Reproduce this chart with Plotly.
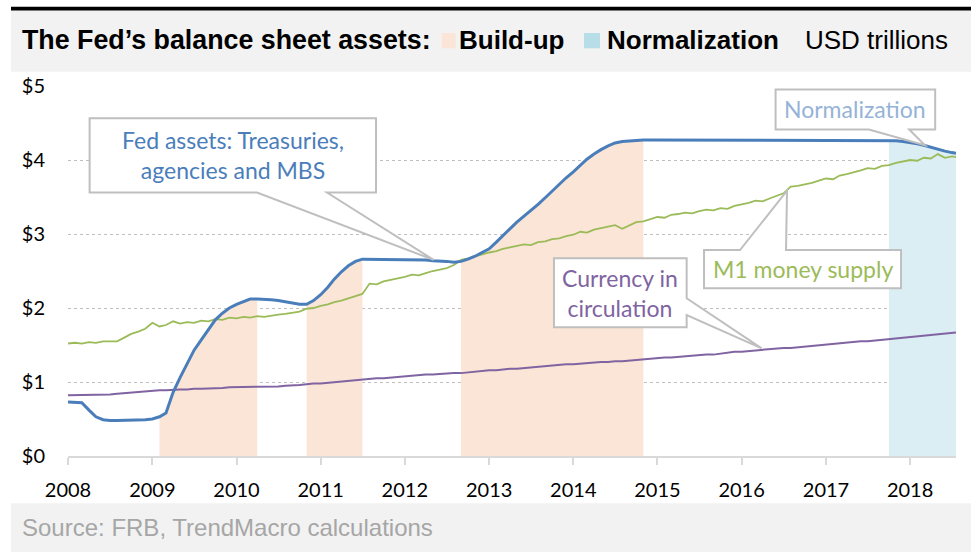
import pandas as pd
import plotly.graph_objects as go

# ---------------- data ----------------
dates = [d.strftime("%Y-%m-%d") for d in pd.date_range("2008-01-01", "2018-07-01", freq="MS")] + ["2018-07-19"]

fed_assets = [
    0.73, 0.73, 0.72, 0.62, 0.53, 0.49, 0.48, 0.48, 0.48, 0.48, 0.49, 0.49,   # 2008
    0.50, 0.53, 0.58, 0.86, 1.06, 1.25, 1.43, 1.57, 1.71, 1.84, 1.93, 2.00,   # 2009
    2.05, 2.09, 2.12, 2.12, 2.12, 2.11, 2.10, 2.08, 2.06, 2.05, 2.05, 2.10,   # 2010
    2.18, 2.28, 2.39, 2.49, 2.57, 2.63, 2.66, 2.66, 2.65, 2.66, 2.65, 2.66,   # 2011
    2.65, 2.66, 2.65, 2.65, 2.64, 2.64, 2.63, 2.62, 2.63, 2.66, 2.70, 2.75,   # 2012
    2.80, 2.89, 2.98, 3.07, 3.16, 3.24, 3.31, 3.40, 3.49, 3.58, 3.67, 3.76,   # 2013
    3.84, 3.93, 4.01, 4.08, 4.14, 4.19, 4.23, 4.25, 4.26, 4.27, 4.27, 4.27,   # 2014
    4.27, 4.26, 4.27, 4.27, 4.26, 4.27, 4.26, 4.27, 4.27, 4.26, 4.27, 4.26,   # 2015
    4.27, 4.26, 4.27, 4.26, 4.27, 4.27, 4.26, 4.27, 4.26, 4.27, 4.27, 4.26,   # 2016
    4.27, 4.26, 4.27, 4.27, 4.26, 4.27, 4.26, 4.27, 4.27, 4.27, 4.26, 4.25,   # 2017
    4.24, 4.22, 4.20, 4.17, 4.15, 4.12, 4.10, 4.09,                           # 2018
]

m1_money = [
    1.52, 1.53, 1.52, 1.54, 1.53, 1.55, 1.55, 1.55, 1.60, 1.65, 1.68, 1.72,   # 2008
    1.80, 1.75, 1.77, 1.82, 1.79, 1.81, 1.80, 1.83, 1.82, 1.85, 1.84, 1.87,   # 2009
    1.86, 1.88, 1.87, 1.89, 1.88, 1.90, 1.91, 1.92, 1.94, 1.95, 1.99, 2.00,   # 2010
    2.03, 2.05, 2.08, 2.10, 2.13, 2.16, 2.19, 2.33, 2.32, 2.36, 2.38, 2.40,   # 2011
    2.42, 2.45, 2.44, 2.47, 2.50, 2.52, 2.54, 2.58, 2.65, 2.67, 2.70, 2.73,   # 2012
    2.75, 2.77, 2.80, 2.82, 2.84, 2.86, 2.85, 2.89, 2.90, 2.93, 2.94, 2.97,   # 2013
    2.99, 3.03, 3.02, 3.06, 3.08, 3.10, 3.12, 3.07, 3.12, 3.16, 3.17, 3.20,   # 2014
    3.23, 3.22, 3.26, 3.27, 3.29, 3.28, 3.31, 3.33, 3.32, 3.35, 3.34, 3.38,   # 2015
    3.40, 3.42, 3.45, 3.44, 3.48, 3.52, 3.55, 3.64, 3.65, 3.67, 3.69, 3.72,   # 2016
    3.75, 3.74, 3.79, 3.81, 3.83, 3.86, 3.89, 3.88, 3.92, 3.93, 3.96, 3.98,   # 2017
    4.00, 3.99, 4.03, 4.02, 4.08, 4.03, 4.05, 4.04,                           # 2018
]

currency = [
    0.82, 0.82, 0.82, 0.82, 0.82, 0.82, 0.83, 0.84, 0.85, 0.86, 0.87, 0.87,   # 2008
    0.88, 0.89, 0.89, 0.90, 0.90, 0.90, 0.91, 0.91, 0.91, 0.92, 0.92, 0.93,   # 2009
    0.93, 0.93, 0.93, 0.94, 0.94, 0.94, 0.94, 0.95, 0.95, 0.96, 0.97, 0.98,   # 2010
    0.98, 0.99, 1.00, 1.01, 1.02, 1.02, 1.03, 1.04, 1.05, 1.05, 1.06, 1.07,   # 2011
    1.07, 1.08, 1.09, 1.10, 1.10, 1.11, 1.11, 1.12, 1.12, 1.13, 1.14, 1.15,   # 2012
    1.16, 1.16, 1.17, 1.18, 1.18, 1.19, 1.19, 1.20, 1.21, 1.22, 1.23, 1.24,   # 2013
    1.24, 1.25, 1.26, 1.26, 1.27, 1.27, 1.28, 1.28, 1.29, 1.30, 1.31, 1.32,   # 2014
    1.32, 1.33, 1.33, 1.34, 1.35, 1.35, 1.36, 1.37, 1.37, 1.38, 1.39, 1.41,   # 2015
    1.41, 1.42, 1.43, 1.44, 1.44, 1.45, 1.46, 1.46, 1.47, 1.48, 1.49, 1.50,   # 2016
    1.51, 1.51, 1.52, 1.53, 1.54, 1.55, 1.55, 1.56, 1.57, 1.58, 1.59, 1.60,   # 2017
    1.61, 1.62, 1.63, 1.64, 1.65, 1.66, 1.67, 1.67,                           # 2018
]

buildup_periods = [("2009-02-01", "2010-04-01"),
                   ("2010-11-01", "2011-07-01"),
                   ("2012-09-01", "2014-11-01")]
normalization_period = ("2017-10-01", "2018-07-19")

year_ticks = [f"{y}-01-01" for y in range(2008, 2019)]
year_labels = [str(y) for y in range(2008, 2019)]
y_ticks = [0, 1, 2, 3, 4, 5]
y_labels = ["$0", "$1", "$2", "$3", "$4", "$5"]

# callout anchors (data points the pointers touch)
callout_fed = ("2012-05-05", 2.65)
callout_norm = ("2018-03-06", 4.20)
callout_m1 = ("2016-07-16", 3.585)
callout_cur = ("2016-03-28", 1.455)

# ---------------- style ----------------
W, H = 971, 552
L, R, T, B = 68, 15, 86, 96
BLUE = "#4a7ebb"
GREEN = "#9bbb59"
PURPLE = "#8064a2"
PEACH = "#fbe5d6"
LIGHTBLUE = "#daeef3"
SQ_BLUE = "#b7dde8"
BOXLINE = "#bfbfbf"
CAL = "Lato, Carlito, sans-serif"
ARIAL = "Liberation Sans, Arial, sans-serif"


def pxx(p):
    return (p - L) / (W - L - R)


def pxy(p):
    return (H - B - p) / (H - T - B)


fig = go.Figure()

# shaded areas under Fed assets
for s, e in buildup_periods:
    i0, i1 = dates.index(s), dates.index(e)
    fig.add_trace(go.Scatter(x=dates[i0:i1 + 1], y=fed_assets[i0:i1 + 1], mode="lines",
                             line=dict(width=0, color=PEACH), fill="tozeroy",
                             fillcolor=PEACH, hoverinfo="skip"))
i0, i1 = dates.index(normalization_period[0]), dates.index(normalization_period[1])
fig.add_trace(go.Scatter(x=dates[i0:i1 + 1], y=fed_assets[i0:i1 + 1], mode="lines",
                         line=dict(width=0, color=LIGHTBLUE), fill="tozeroy",
                         fillcolor=LIGHTBLUE, hoverinfo="skip"))

fig.add_trace(go.Scatter(x=dates, y=currency, mode="lines", line=dict(color=PURPLE, width=2)))
fig.add_trace(go.Scatter(x=dates, y=m1_money, mode="lines", line=dict(color=GREEN, width=1.8)))
fig.add_trace(go.Scatter(x=dates, y=fed_assets, mode="lines", line=dict(color=BLUE, width=3)))

shapes = []
annotations = []

# header / footer bars
shapes.append(dict(type="rect", xref="paper", yref="paper", x0=pxx(11), x1=pxx(971),
                   y0=pxy(71.7), y1=pxy(10), fillcolor="#f2f2f2", line=dict(width=0), layer="below"))
shapes.append(dict(type="rect", xref="paper", yref="paper", x0=pxx(11), x1=pxx(971),
                   y0=pxy(552), y1=pxy(503.3), fillcolor="#f2f2f2", line=dict(width=0), layer="below"))
# black rule on top of the header
shapes.append(dict(type="rect", xref="paper", yref="paper", x0=pxx(11), x1=pxx(971),
                   y0=pxy(10.5), y1=pxy(6.8), fillcolor="#000000", line=dict(width=0), layer="above"))
# legend squares in title
shapes.append(dict(type="rect", xref="paper", yref="paper", x0=pxx(441.7), x1=pxx(455.5),
                   y0=pxy(48.3), y1=pxy(33), fillcolor=PEACH, line=dict(width=0)))
shapes.append(dict(type="rect", xref="paper", yref="paper", x0=pxx(584), x1=pxx(600),
                   y0=pxy(48.3), y1=pxy(33), fillcolor=SQ_BLUE, line=dict(width=0)))

# black rule as a top-layer box as well
annotations.append(dict(x=pxx(11), y=pxy(6.8), xref="paper", yref="paper", xanchor="left",
                        yanchor="top", text="", showarrow=False, width=960, height=3,
                        bgcolor="#000000", borderpad=0, borderwidth=0,
                        font=dict(size=1, color="#000000")))

title_y = pxy(40)
TS = 26
annotations += [
    dict(x=pxx(20), y=title_y, xref="paper", yref="paper", xanchor="left", yanchor="middle",
         text="<b>The Fed’s balance sheet assets:</b>", showarrow=False,
         font=dict(family=ARIAL, size=TS + 0.8, color="black")),
    dict(x=pxx(457), y=title_y, xref="paper", yref="paper", xanchor="left", yanchor="middle",
         text="<b>Build-up</b>", showarrow=False, font=dict(family=ARIAL, size=TS, color="black")),
    dict(x=pxx(604.5), y=title_y, xref="paper", yref="paper", xanchor="left", yanchor="middle",
         text="<b>Normalization</b>", showarrow=False, font=dict(family=ARIAL, size=TS, color="black")),
    dict(x=pxx(803), y=title_y, xref="paper", yref="paper", xanchor="left", yanchor="middle",
         text="USD trillions", showarrow=False, font=dict(family=ARIAL, size=TS, color="black")),
    dict(x=pxx(19.5), y=pxy(527), xref="paper", yref="paper", xanchor="left", yanchor="middle",
         text="Source: FRB, TrendMacro calculations", showarrow=False,
         font=dict(family=ARIAL, size=24, color="#a6a6a6")),
]


def callout(anchor, path, text, color, tx, ty):
    shapes.append(dict(type="path", xref="x", yref="y", xsizemode="pixel", ysizemode="pixel",
                       xanchor=anchor[0], yanchor=anchor[1], path=path, fillcolor="white",
                       line=dict(color=BOXLINE, width=2), layer="above"))
    annotations.append(dict(x=anchor[0], y=anchor[1], xref="x", yref="y", xshift=tx, yshift=ty,
                            text=text, showarrow=False, align="center",
                            font=dict(family=CAL, size=23, color=color)))


callout(callout_fed,
        "M0,0 L-106.6,67.3 L-57.6,67.3 L-57.6,141.7 L-344,141.7 L-344,67.3 L-176.6,67.3 Z",
        "Fed assets: Treasuries,<br>agencies and MBS", BLUE, -200.8, 104.5)
callout(callout_norm,
        "M0,0 L-15.7,15.7 L10.3,15.7 L10.3,55.7 L-149.3,55.7 L-149.3,15.7 L-56,15.7 Z",
        "Normalization", "#95b3d7", -69.5, 35.7)
callout(callout_m1,
        "M0,0 L-1,-59.3 L114,-59.3 L114,-97.6 L-83,-97.6 L-83,-59.3 L-47,-59.3 Z",
        "M1 money supply", GREEN, 15.5, -78.5)
callout(callout_cur,
        "M0,0 L-75,33.3 L-75,21 L-207.7,21 L-207.7,90 L-75,90 L-75,50 Z",
        "Currency in<br>circulation", PURPLE, -141.4, 55.5)

fig.update_layout(
    width=W, height=H, autosize=False,
    margin=dict(l=L, r=R, t=T, b=B, pad=0),
    paper_bgcolor="white", plot_bgcolor="white",
    showlegend=False, hovermode=False,
    shapes=shapes, annotations=annotations,
    xaxis=dict(type="date", range=["2008-01-01", "2018-07-19"], tickvals=year_ticks,
               ticktext=year_labels, showgrid=False, zeroline=False, showline=True,
               linecolor="#d9d9d9", linewidth=2, ticks="outside", ticklen=7, tickwidth=2,
               tickcolor="#d9d9d9", tickfont=dict(family=CAL, size=20, color="black"),
               ticklabelstandoff=8),
    yaxis=dict(range=[0, 5], tickvals=y_ticks, ticktext=y_labels, showgrid=True,
               gridcolor="#bfbfbf", griddash="dot", gridwidth=1, zeroline=False,
               showline=False, ticks="", tickfont=dict(family=CAL, size=20, color="black"),
               ticklabelstandoff=22),
)

fig.write_html("out.html", config={"displayModeBar": False, "staticPlot": True},
               post_script="document.body.style.margin='0';document.body.style.padding='0';")
